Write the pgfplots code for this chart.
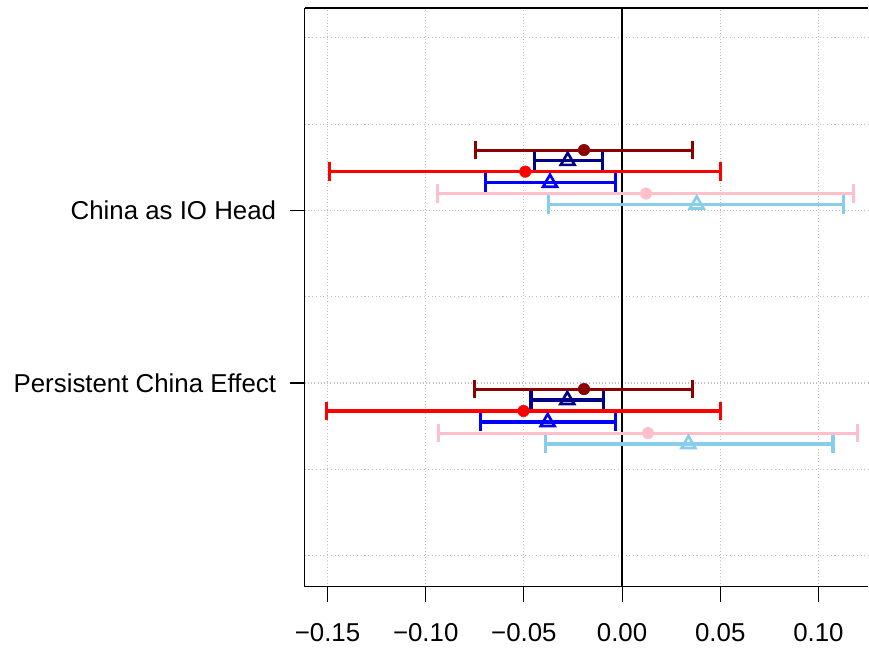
\documentclass[border=0pt]{standalone}
\usepackage{pgfplots}
\pgfplotsset{compat=1.18}
\usepackage{pgfplotstable}
\usepackage{fontspec}
\setmainfont{Liberation Sans}

\definecolor{cdarkred}{RGB}{139,0,0}
\definecolor{cnavy}{RGB}{0,0,139}
\definecolor{cred}{RGB}{255,0,0}
\definecolor{cblue}{RGB}{0,0,255}
\definecolor{cpink}{RGB}{255,192,203}
\definecolor{csky}{RGB}{135,206,235}

% estimate, lower and upper bound; rows: China as IO Head, Persistent China Effect
\pgfplotstableread{
x y lo hi
-0.0194 5.700 -0.0746 0.0360
-0.0194 2.930 -0.0752 0.0358
}\tdarkred
\pgfplotstableread{
x y lo hi
-0.0277 5.575 -0.0444 -0.0100
-0.0279 2.803 -0.0464 -0.0095
}\tnavy
\pgfplotstableread{
x y lo hi
-0.0493 5.450 -0.1490 0.0500
-0.0502 2.676 -0.1505 0.0500
}\tred
\pgfplotstableread{
x y lo hi
-0.0367 5.322 -0.0696 -0.0035
-0.0379 2.548 -0.0720 -0.0035
}\tblue
\pgfplotstableread{
x y lo hi
0.0122 5.196 -0.0940 0.1180
0.0132 2.420 -0.0934 0.1198
}\tpink
\pgfplotstableread{
x y lo hi
0.0380 5.070 -0.0375 0.1128
0.0338 2.293 -0.0390 0.1074
}\tsky

\pgfplotsset{
  ci/.style={only marks, color=#1,
    error bars/error bar style={line width=2.3pt, draw=#1},
    error bars/error mark options={rotate=90, mark size=7pt, line width=2.3pt, draw=#1}},
  dot/.style={ci=#1, mark=*, mark size=4.3pt},
  tri/.style={ci=#1, mark=triangle, mark size=6pt, mark options={line width=2pt, fill=none}},
}

\begin{document}
\begin{tikzpicture}
\begin{axis}[
    scale only axis,
    width=423pt, height=434.25pt,
    xmin=-0.1616, xmax=0.1254,
    ymin=0.641, ymax=7.347,
    axis line style={draw=none},
    xtick={-0.15,-0.10,-0.05,0,0.05,0.10},
    xticklabels={−0.15,−0.10,−0.05,0.00,0.05,0.10},
    ytick={3,5},
    yticklabels={Persistent China Effect,China as IO Head},
    minor ytick={1,2,4,6,7},
    tick align=outside,
    major tick length=11.25pt,
    minor tick length=0pt,
    tick style={black, line width=0.8pt},
    xtick pos=bottom, ytick pos=left,
    grid=both,
    grid style={gray!50, dotted, line width=0.8pt},
    minor grid style={gray!50, dotted, line width=0.8pt},
    ticklabel style={font=\fontsize{19.4}{23}\selectfont},
    xticklabel style={yshift=-13pt},
    yticklabel style={xshift=-6.75pt},
    clip=false,
    error bars/x dir=both, error bars/x explicit,
]
\draw[black, line width=1pt] (axis cs:0,0.641) -- (axis cs:0,7.347);

\addplot[dot=cdarkred]
    table[x error plus expr=\thisrow{hi}-\thisrow{x}, x error minus expr=\thisrow{x}-\thisrow{lo}] {\tdarkred};
\addplot[tri=cnavy]
    table[x error plus expr=\thisrow{hi}-\thisrow{x}, x error minus expr=\thisrow{x}-\thisrow{lo}] {\tnavy};
\addplot[dot=cred]
    table[x error plus expr=\thisrow{hi}-\thisrow{x}, x error minus expr=\thisrow{x}-\thisrow{lo}] {\tred};
\addplot[tri=cblue]
    table[x error plus expr=\thisrow{hi}-\thisrow{x}, x error minus expr=\thisrow{x}-\thisrow{lo}] {\tblue};
\addplot[dot=cpink]
    table[x error plus expr=\thisrow{hi}-\thisrow{x}, x error minus expr=\thisrow{x}-\thisrow{lo}] {\tpink};
\addplot[tri=csky]
    table[x error plus expr=\thisrow{hi}-\thisrow{x}, x error minus expr=\thisrow{x}-\thisrow{lo}] {\tsky};

\coordinate (bl) at (rel axis cs:0,0);
\coordinate (tr) at (rel axis cs:1,1);
\end{axis}
% box without the right side
\draw[black, line width=1pt] (bl |- tr) -- (bl) -- (tr |- bl);
\draw[black, line width=1pt] (bl |- tr) -- (tr);
\path (bl) +(-228.75pt,-47.25pt);
\path (tr) +(0pt,6pt);
\end{tikzpicture}
\end{document}
